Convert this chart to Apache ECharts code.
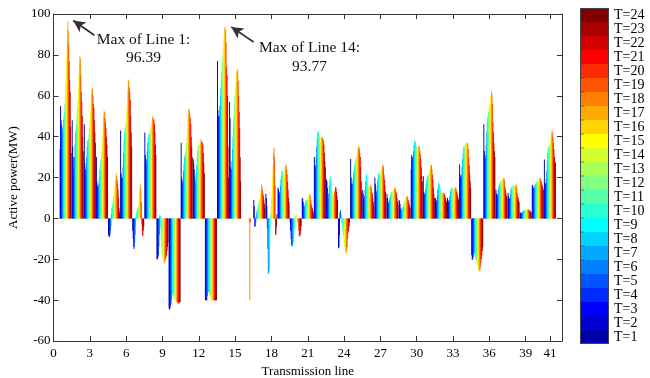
<!DOCTYPE html>
<html>
<head>
<meta charset="utf-8">
<script src="https://cdn.jsdelivr.net/npm/echarts@6/dist/echarts.min.js"></script>
<style>html,body{margin:0;padding:0;background:#fff}#c{width:650px;height:378px}</style>
</head>
<body>
<div id="c"></div>
<script>
// Active power (MW) of each transmission line for T=1..T=24
const L1  = [34, 55, 48, 46, 44, 42, 45, 48, 50, 52, 56, 60, 66, 72, 80, 88, 96.39, 92, 85, 77, 68, 62, 45, 32];
const L2  = [48, 35, 30, 24, 26, 30, 36, 42, 44, 46, 50, 54, 58, 63, 70, 76, 79.6, 78, 70, 62, 57, 50, 40, 33];
const L3  = [46, 27, 24, 22, 25, 30, 35, 38, 38, 39, 41, 44, 48, 52, 57, 61, 64, 63, 60, 56, 54, 48, 42, 37];
const L4  = [30, 18, 16, 15, 15, 17, 20, 24, 26, 28, 30, 33, 36, 40, 45, 50, 52.6, 52, 49, 47, 44, 40, 36, 30];
const L5  = [-8, -9, -9, -8, -6, -4, 2, 5, 6, 7, 9, 11, 13, 15, 17, 19, 22, 21, 19, 17, 14, 10, 5, 3];
const L6  = [43, 22, 20, 18, 20, 25, 32, 38, 42, 43, 44, 46, 49, 53, 58, 63, 68, 67, 64, 62, 58, 50, 42, 35];
const L7  = [-6, -10, -14, -15, -12, -8, -3, 1, 3, 4, 5, 5, 6, 8, 12, 15, 16.6, 14, 8, -3, -8, -8.8, -6, -4];
const L8  = [42, 31, 28, 27, 29, 33, 37, 40, 41, 41, 42, 43, 44, 45, 47, 48, 50, 49, 48, 48.5, 46, 42, 36, 31];
const L9  = [-20, -20, -19, -18, -14, -8, 1.5, 1, -5, -10, -14, -17, -19, -20, -21, -22, -22, -21, -20, -19, -18, -16, -14, -12];
const L10 = [-44, -44.7, -44, -43, -42, -40, -38, -37, -36.7, -37, -38, -39, -40, -40, -40, -40, -41, -41, -41, -41.6, -41.6, -41, -41, -41];
const L11 = [37, 20, 18, 17, 19, 23, 27, 30, 31, 32, 34, 37, 40, 44, 48, 51, 53.6, 53, 51, 49, 46, 40, 35, 30];
const L12 = [29, 27, 24, 20, 16, 18, 22, 26, 30, 33, 35, 36, 36, 35, 36, 37, 38.8, 38, 37.5, 37, 36, 32, 27, 22];
const L13 = [-40, -40, -40, -40, -38, -36, -36, -36, -36, -37, -38, -39, -40, -40, -40, -40, -40, -40, -40, -40, -40, -40, -40, -40];
const L14 = [77, 53, 50, 48, 50, 55, 60, 64, 68, 72, 76, 80, 84, 88, 91, 93, 93.77, 92, 86, 74, 70, 60, 35, 20];
const L15 = [57, 49, 25, 22, 24, 28, 34, 40, 45, 50, 55, 60, 64, 67, 70, 72, 73, 72, 67, 60, 52, 44, 30, 18];
const L16 = [0, 0, 0, 0, 0, 0, 0, 0, 0, 0, 0, 0, 0, 0, 0, -1, -2, -40, -2, 0, 0, 0, 0, 0];
const L17 = [9, 6, -4, -4, -2, 1, 3, 4, 5, 6, 7, 8, 9, 10, 12, 14, 16.6, 16, 14, 12, 11, 9, 7, 5];
const L18 = [12, 10, 6, -5, -15, -27, -27, -25, -15, -5, 2, 6, 10, 14, 20, 26, 32, 34.6, 30, 16, -8, -8, -4, 2];
const L19 = [15, 14, 13, 12, 13, 16, 19, 21, 23, 23, 22, 21, 20.6, 21, 23, 25, 26.4, 26, 24, 21.5, 18, 14, 10, 8];
const L20 = [-2, -6, -10, -13, -13.8, -13, -12, -10, -8, -5, -2, 1, 2, 2, 1, 0, -2, -4, -6, -8.8, -8.8, -8, -6, -4];
const L21 = [10, 9.6, 8, 6, 5, 6, 7, 8, 8.8, 9, 9, 9, 10, 10, 11, 11.5, 12, 11, 9, 7, 5.9, 5, 4, 3];
const L22 = [30, 26, 24, 26, 30, 35, 39, 42, 42.8, 42, 41, 40, 39.5, 39, 39, 39.5, 40, 39.5, 39, 38, 36, 32, 28, 25];
const L23 = [19, 18, 15, 12, 10, 12, 16, 19, 20.6, 20, 18, 15, 12, 10, 10, 11, 12, 13, 14, 15.4, 15, 13, 11, 9];
const L24 = [-14.6, -14, -8, 3, 4, 2, 0, -2, -4, -6, -8, -10, -12, -14, -16, -17, -17, -16, -14, -10, -7, -6, -4, -2];
const L25 = [29, 20, 17, 16, 17, 19, 22, 24, 26, 27, 28, 29, 30, 31, 32, 34, 35.4, 35, 34, 32, 30, 25, 18, 13];
const L26 = [14, 12, 10, 9, 11, 14, 18, 21, 21.6, 20, 18, 16, 15, 14, 15, 16, 16.6, 16, 15, 13, 12, 10, 8, 6];
const L27 = [20, 17, 14, 12, 13, 16, 19, 21, 22.3, 22, 21, 21, 22, 23, 24, 25, 26.4, 26, 25, 21.5, 19, 16, 13, 10];
const L28 = [12, 10, 8, 7, 8, 9, 10, 11, 12, 12.5, 13, 13, 13, 13.5, 14, 14.5, 15, 15, 14, 13, 12, 10, 8, 6.4];
const L29 = [9, 8.4, 7, 5, 4, 4, 5, 5.5, 5.1, 6, 7, 8, 8.5, 9, 10, 10.5, 11, 10.8, 10, 9, 8.4, 7, 6, 5];
const L30 = [24, 31, 30, 28, 30, 33, 36, 37.8, 38, 37, 36, 35, 34, 34, 34.5, 35, 35.4, 35, 33, 31.3, 29, 25, 21, 18];
const L31 = [20.6, 13, 12, 11, 12, 14, 17, 19, 20, 21, 21, 21.5, 22, 23, 24, 25.5, 26.4, 26, 24, 21.5, 19, 15, 12, 10];
const L32 = [10, 8.4, 8, 9, 11, 14, 16, 17.3, 17, 16, 15, 14, 13, 12.5, 12, 12, 12.5, 12.5, 12, 12, 11, 10, 9, 8];
const L33 = [10, 9, 8, 8, 9, 11, 13, 14, 14.5, 15, 15, 14.5, 14, 14, 14, 14.5, 15, 15, 14.5, 13.3, 12.5, 11, 10, 9];
const L34 = [26.4, 21.5, 20, 19, 21, 25, 29, 32, 34.6, 35, 35, 35.5, 36, 36, 36.5, 37, 37, 36.5, 34, 29.6, 26, 22, 18, 15];
const L35 = [-18, -20.3, -20, -19, -17, -16, -17, -18, -19, -20, -21, -22, -23, -24, -25, -25.5, -26, -25.5, -24, -22, -20, -18, -16, -14];
const L36 = [46, 33, 30, 29, 31, 36, 42, 47, 49.3, 51, 52, 53, 54.2, 56, 58, 60, 62.4, 61, 56, 47, 42, 37, 33, 30];
const L37 = [14, 12, 11, 11, 12, 14, 15.5, 16.5, 17, 17.5, 18, 18.2, 18.5, 18.8, 19.2, 19.5, 19.8, 19.5, 18.5, 15.5, 14, 12, 11, 10];
const L38 = [12.4, 11, 10, 9.5, 10, 12, 14, 15, 15.5, 15.5, 15.5, 15.8, 16, 16, 16.2, 16.4, 16.5, 16.2, 15, 12.4, 11, 10, 9, 8];
const L39 = [3, 2.6, 2.5, 2.5, 2.8, 3.2, 3.5, 3.8, 4, 4, 4, 4, 4, 4.2, 4.3, 4.4, 4.5, 4.4, 4.2, 4, 3.8, 3.5, 3.2, 3];
const L40 = [16, 16.5, 15, 14, 14.5, 15.5, 16.5, 17, 17.4, 17.6, 17.8, 18, 18.2, 18.5, 19, 19.4, 19.8, 19.5, 19, 18, 17, 16, 15, 14];
const L41 = [28.8, 17.4, 17, 17, 19, 23, 28, 32, 34.6, 35, 35.5, 36, 36.5, 38, 40, 42, 42.8, 42, 40, 37, 34, 30, 28, 27];

const lines = [L1, L2, L3, L4, L5, L6, L7, L8, L9, L10, L11, L12, L13, L14, L15, L16, L17, L18, L19, L20,
               L21, L22, L23, L24, L25, L26, L27, L28, L29, L30, L31, L32, L33, L34, L35, L36, L37, L38, L39, L40, L41];

const periodNames = ['T=1','T=2','T=3','T=4','T=5','T=6','T=7','T=8','T=9','T=10','T=11','T=12',
                     'T=13','T=14','T=15','T=16','T=17','T=18','T=19','T=20','T=21','T=22','T=23','T=24'];
// MATLAB jet(24)
const jetColors = ['#0000AA','#0000D4','#0000FF','#002BFF','#0055FF','#0080FF','#00AAFF','#00D4FF',
                   '#00FFFF','#2BFFD4','#55FFAA','#80FF80','#AAFF55','#D4FF2B','#FFFF00','#FFD400',
                   '#FFAA00','#FF8000','#FF5500','#FF2B00','#FF0000','#D40000','#AA0000','#800000'];
const xTickValues = [0, 3, 6, 9, 12, 15, 18, 21, 24, 27, 30, 33, 36, 39, 41];
const yMin = -60, yMax = 100, yStep = 20;

const FONT = "'Liberation Serif', 'Times New Roman', serif";
const chart = echarts.init(document.getElementById('c'), null, {renderer: 'canvas'});

const series = periodNames.map((name, t) => ({
  type: 'bar',
  name: name,
  data: lines.map((vals, i) => [i + 1, vals[t]]),
  itemStyle: {color: jetColors[t]},
  barWidth: 0.96,
  barGap: '-50%',
  barMinWidth: 0.05,
  emphasis: {disabled: true},
  silent: true
}));

const max1 = Math.max(...L1);
const max14 = Math.max(...L14);
series[16].markLine = {
  silent: true,
  symbol: ['none', 'arrow'],
  symbolSize: [9, 12],
  animation: false,
  label: {show: false},
  lineStyle: {color: '#333', width: 1.8, type: 'solid'},
  data: [
    [{coord: [3.2, 89.6]}, {coord: [1.45, 96.8]}],
    [{coord: [16.35, 86.3]}, {coord: [14.5, 93.7]}]
  ]
};

const legendH = 14, legendTop = 8, legendLeft = 580, legendW = 29;
const graphics = [
  {type: 'text', x: 143.5, y: 31, silent: true,
   style: {text: 'Max of Line 1:\n' + max1.toFixed(2), font: "15.5px " + FONT, fill: '#111', align: 'center', verticalAlign: 'top', lineHeight: 18}},
  {type: 'text', x: 309.5, y: 38, silent: true,
   style: {text: 'Max of Line 14:\n' + max14.toFixed(2), font: "15.5px " + FONT, fill: '#111', align: 'center', verticalAlign: 'top', lineHeight: 19}},
  {type: 'rect', silent: true, z: 100,
   shape: {x: legendLeft + 0.5, y: legendTop + 0.5, width: legendW - 1, height: legendH * 24 - 1},
   style: {fill: 'none', stroke: '#444', lineWidth: 1}}
];
for (let k = 1; k < 24; k++) {
  const yy = legendTop + legendH * k;
  graphics.push({type: 'line', silent: true, z: 100,
    shape: {x1: legendLeft, y1: yy, x2: legendLeft + 4, y2: yy},
    style: {stroke: '#333', lineWidth: 1, opacity: 0.55}});
}

const axisLineStyle = {color: '#333', width: 1};
chart.setOption({
  animation: false,
  backgroundColor: '#fff',
  grid: {left: 53.5, right: 88, top: 14, bottom: 37, containLabel: false, outerBoundsMode: 'none'},
  legend: {
    orient: 'vertical', left: legendLeft, top: legendTop, padding: 0,
    itemGap: 0, itemWidth: legendW, itemHeight: legendH, icon: 'rect',
    selectedMode: false,
    data: periodNames.slice().reverse(),
    textStyle: {fontFamily: FONT, fontSize: 14, lineHeight: legendH, color: '#000'}
  },
  xAxis: [
    {type: 'value', min: 0, max: 42, position: 'bottom',
     name: 'Transmission line', nameLocation: 'middle', nameGap: 22,
     nameTextStyle: {fontFamily: FONT, fontSize: 13, color: '#000'},
     axisLine: {show: true, onZero: false, lineStyle: axisLineStyle},
     axisTick: {show: true, inside: true, length: 5, customValues: xTickValues, lineStyle: axisLineStyle},
     axisLabel: {show: true, customValues: xTickValues, margin: 6, fontFamily: FONT, fontSize: 13, color: '#000'},
     splitLine: {show: false}},
    {type: 'value', min: 0, max: 42, position: 'top',
     axisLine: {show: true, onZero: false, lineStyle: axisLineStyle},
     axisTick: {show: true, inside: true, length: 5, customValues: xTickValues, lineStyle: axisLineStyle},
     axisLabel: {show: false},
     splitLine: {show: false}}
  ],
  yAxis: [
    {type: 'value', min: yMin, max: yMax, interval: yStep, position: 'left',
     name: 'Active power(MW)', nameLocation: 'middle', nameGap: 26, nameRotate: 90,
     nameTextStyle: {fontFamily: FONT, fontSize: 13, color: '#000'},
     axisLine: {show: true, onZero: false, lineStyle: axisLineStyle},
     axisTick: {show: true, inside: true, length: 5, lineStyle: axisLineStyle},
     axisLabel: {margin: 3, fontFamily: FONT, fontSize: 13, color: '#000'},
     splitLine: {show: false}},
    {type: 'value', min: yMin, max: yMax, interval: yStep, position: 'right',
     axisLine: {show: true, onZero: false, lineStyle: axisLineStyle},
     axisTick: {show: true, inside: true, length: 5, lineStyle: axisLineStyle},
     axisLabel: {show: false},
     splitLine: {show: false}}
  ],
  series: series,
  graphic: graphics
});
</script>
</body>
</html>
